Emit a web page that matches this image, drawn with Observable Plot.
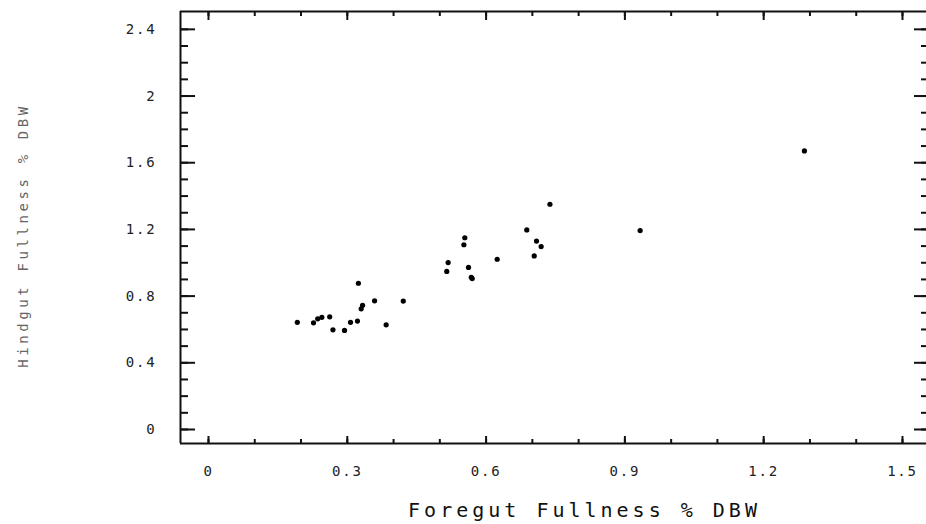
<!DOCTYPE html>
<html><head><meta charset="utf-8">
<script src="https://cdn.jsdelivr.net/npm/d3@7"></script>
<script src="https://cdn.jsdelivr.net/npm/@observablehq/plot@0.6"></script>
<style>
body{margin:0;background:#fff;}
#chart svg{display:block;}
g[aria-label="x-axis tick label"] text, g[aria-label="y-axis tick label"] text {letter-spacing:1.8px;}
g[aria-description="xtitle"] text {letter-spacing:4px;}
g[aria-description="ytitle"] text {letter-spacing:3.6px;}
</style></head>
<body><div id="chart"></div>
<script>
// Foregut fullness (% DBW) and hindgut fullness (% DBW)
const foregut = [0.192, 0.227, 0.236, 0.245, 0.262, 0.269, 0.294, 0.307, 0.322, 0.324,
                 0.330, 0.333, 0.359, 0.384, 0.421, 0.515, 0.518, 0.552, 0.554, 0.562,
                 0.568, 0.570, 0.624, 0.688, 0.704, 0.709, 0.719, 0.738, 0.933, 1.288];
const hindgut = [0.643, 0.640, 0.664, 0.673, 0.676, 0.598, 0.594, 0.643, 0.650, 0.877,
                 0.724, 0.745, 0.772, 0.628, 0.770, 0.948, 1.001, 1.108, 1.150, 0.972,
                 0.913, 0.905, 1.021, 1.197, 1.041, 1.130, 1.097, 1.351, 1.193, 1.671];

const xMajor = [0, 0.3, 0.6, 0.9, 1.2, 1.5];
const xMinor = [0, 0.1, 0.2, 0.3, 0.4, 0.5, 0.6, 0.7, 0.8, 0.9, 1.0, 1.1, 1.2, 1.3, 1.4, 1.5];
const yMajor = [0, 0.4, 0.8, 1.2, 1.6, 2, 2.4];
const yMinor = [0, 0.1, 0.2, 0.3, 0.4, 0.5, 0.6, 0.7, 0.8, 0.9, 1.0, 1.1, 1.2,
                1.3, 1.4, 1.5, 1.6, 1.7, 1.8, 1.9, 2.0, 2.1, 2.2, 2.3, 2.4];
const xTitle = "Foregut Fullness % DBW";
const yTitle = "Hindgut Fullness % DBW";

const xDomain = [-0.0605, 1.5519];
const yDomain = [-0.084, 2.507];

const points = foregut.map((d, i) => ({x: d, y: hindgut[i]}));
const tickOpts = {fill: "none", label: null, strokeWidth: 2, stroke: "#111"};

const chart = Plot.plot({
  width: 926,
  height: 524,
  marginLeft: 180,
  marginRight: 0,
  marginTop: 11,
  marginBottom: 81,
  style: {fontFamily: "'DejaVu Sans Mono', monospace", fontSize: "14px", background: "#fff", color: "#111"},
  x: {domain: xDomain, axis: null},
  y: {domain: yDomain, axis: null},
  marks: [
    // frame lines (left, bottom, top)
    Plot.ruleX([xDomain[0]], {stroke: "#111", strokeWidth: 2}),
    Plot.ruleY([yDomain[0]], {stroke: "#111", strokeWidth: 2}),
    Plot.ruleY([yDomain[1]], {stroke: "#111", strokeWidth: 2}),
    // bottom ticks (inward)
    Plot.axisX(xMinor, {...tickOpts, anchor: "bottom", tickSize: 4, dy: -4}),
    Plot.axisX(xMajor, {...tickOpts, anchor: "bottom", tickSize: 7, dy: -7}),
    // top ticks (inward)
    Plot.axisX(xMinor, {...tickOpts, anchor: "top", tickSize: 4, dy: 4}),
    Plot.axisX(xMajor, {...tickOpts, anchor: "top", tickSize: 8, dy: 8}),
    // left ticks (inward)
    Plot.axisY(yMinor, {...tickOpts, anchor: "left", tickSize: 8, dx: 8}),
    Plot.axisY(yMajor, {...tickOpts, anchor: "left", tickSize: 15, dx: 15}),
    // right ticks (inward)
    Plot.axisY(yMinor, {...tickOpts, anchor: "right", tickSize: 6, dx: -6}),
    Plot.axisY(yMajor, {...tickOpts, anchor: "right", tickSize: 13, dx: -13}),
    // tick labels
    Plot.axisX(xMajor, {anchor: "bottom", tickSize: 0, tickPadding: 23, tickFormat: d => String(d), label: null, fill: "#222", fontSize: 14}),
    Plot.axisY(yMajor, {anchor: "left", tickSize: 0, tickPadding: 24, tickFormat: d => String(d), label: null, fill: "#222", fontSize: 14}),
    // axis titles
    Plot.text([xTitle], {text: d => d, frameAnchor: "bottom", textAnchor: "middle", dx: 31, dy: 73, fontSize: 20, fill: "#111", ariaDescription: "xtitle"}),
    Plot.text([yTitle], {text: d => d, frameAnchor: "left", textAnchor: "middle", lineAnchor: "middle", rotate: -90, dx: -157, dy: 8, fontSize: 14, fill: "#666", ariaDescription: "ytitle"}),
    // data points
    Plot.dot(points, {x: "x", y: "y", r: 2.6, fill: "#000", stroke: "none"})
  ]
});
document.getElementById("chart").appendChild(chart);
</script>
</body></html>
